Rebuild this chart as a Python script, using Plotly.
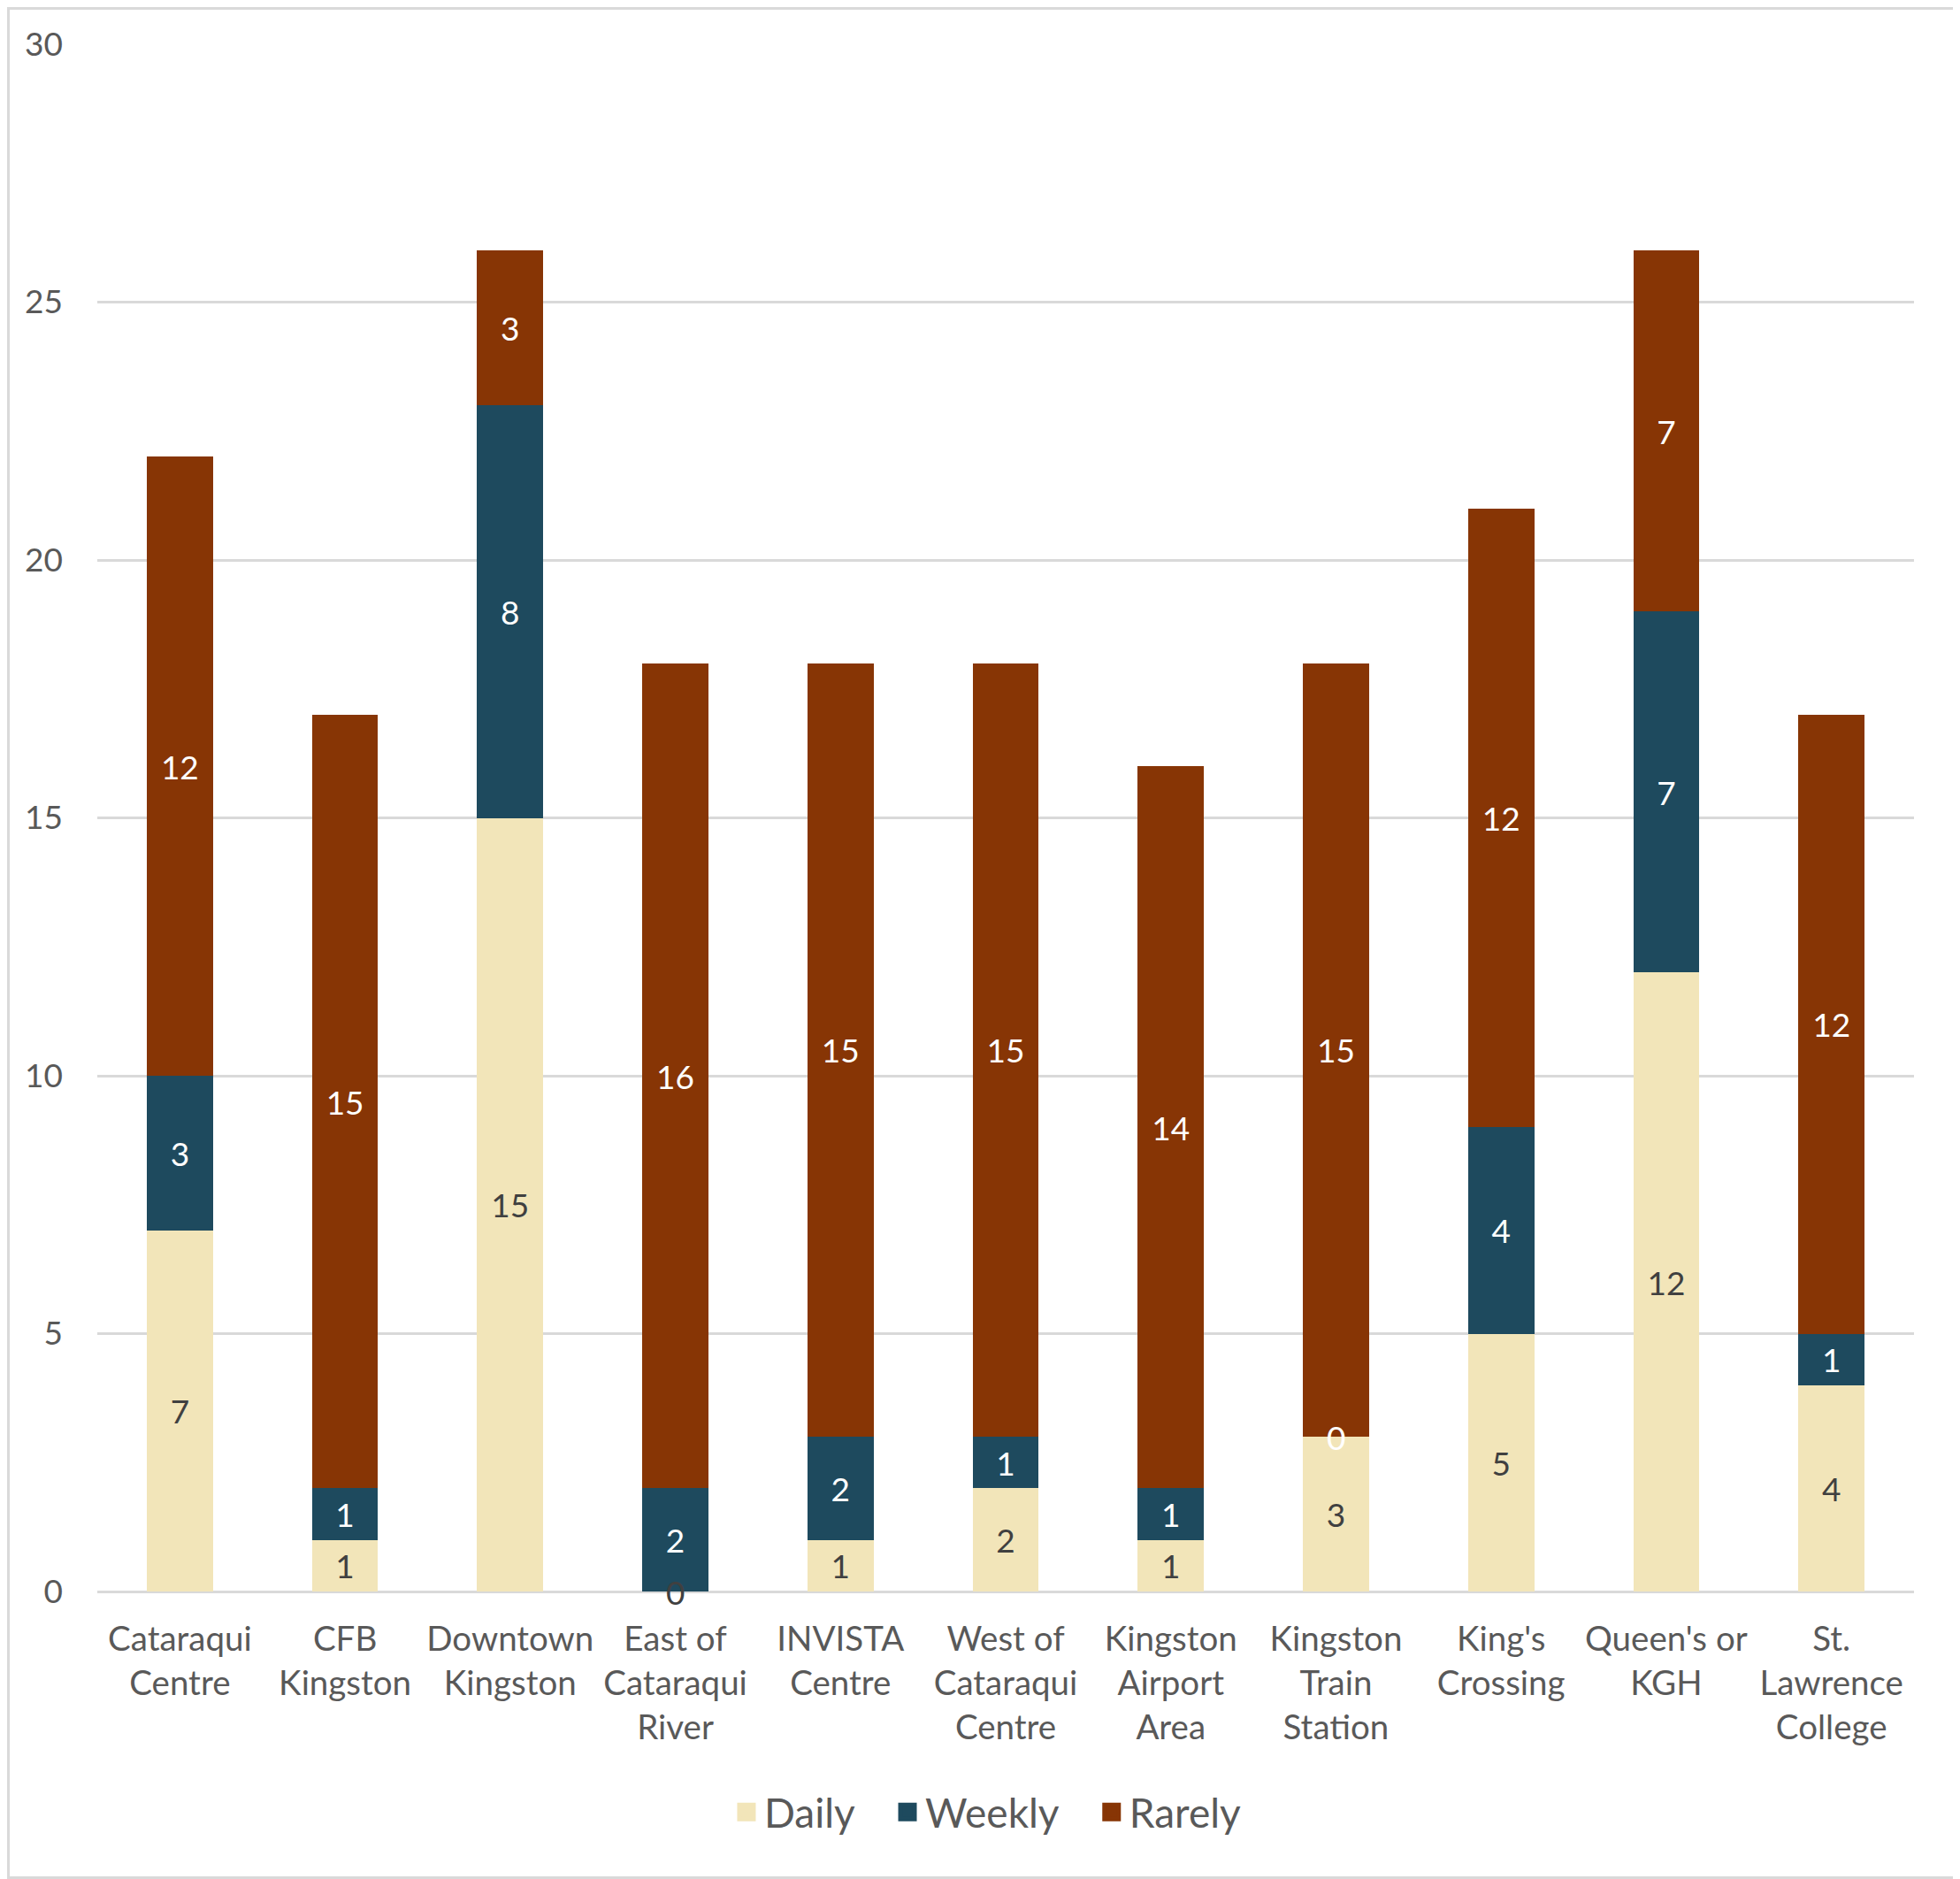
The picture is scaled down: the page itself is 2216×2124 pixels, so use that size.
import plotly.graph_objects as go

categories = [
    "Cataraqui<br>Centre", "CFB<br>Kingston", "Downtown<br>Kingston",
    "East of<br>Cataraqui<br>River", "INVISTA<br>Centre",
    "West of<br>Cataraqui<br>Centre", "Kingston<br>Airport<br>Area",
    "Kingston<br>Train<br>Station", "King's<br>Crossing",
    "Queen's or<br>KGH", "St.<br>Lawrence<br>College",
]
daily = [7, 1, 15, 0, 1, 2, 1, 3, 5, 12, 4]
weekly = [3, 1, 8, 2, 2, 1, 1, 0, 4, 7, 1]
rarely = [12, 15, 3, 16, 15, 15, 14, 15, 12, 7, 12]
y_ticks = [0, 5, 10, 15, 20, 25, 30]

series = [
    ("Daily", daily, "#F2E5B9", "#404040"),
    ("Weekly", weekly, "#1E4A5E", "#FFFFFF"),
    ("Rarely", rarely, "#873505", "#FFFFFF"),
]

FONT = "Lato, Open Sans, sans-serif"
# page body has an 8px margin, so the figure is shifted to compensate
W, H = 2208, 2116
ML, MR, MT, MB = 102, 52, 42, 325
PW, PH = W - ML - MR, H - MT - MB

fig = go.Figure()
annotations = []
base = [0] * len(categories)
for name, vals, col, tcol in series:
    fig.add_trace(go.Bar(
        name=name, x=categories, y=vals, marker_color=col,
        marker_line_width=0, showlegend=False,
        text=[str(v) if v else "" for v in vals],
        textposition="inside", insidetextanchor="middle",
        textfont=dict(family=FONT, size=37, color=tcol),
        hoverinfo="skip",
    ))
    for c, v, b in zip(categories, vals, base):
        if v == 0:
            annotations.append(dict(
                x=c, y=b, xref="x", yref="y", text="0", showarrow=False,
                font=dict(family=FONT, size=37, color=tcol),
                yanchor="middle", xanchor="center"))
    base = [b + v for b, v in zip(base, vals)]

# legend entries with larger square swatches
pad = "\u00a0" * 3
for i, (name, vals, col, tcol) in enumerate(series):
    fig.add_trace(go.Scatter(
        name=name + (pad if i < len(series) - 1 else ""),
        x=[None], y=[None], mode="markers",
        marker=dict(symbol="square", size=25, color=col,
                    line=dict(color=col, width=8)),
        showlegend=True, hoverinfo="skip",
    ))

inset = 1.5
fig.add_shape(
    type="rect", xref="paper", yref="paper",
    x0=(-ML + inset) / PW, x1=(PW + MR - inset) / PW,
    y0=(-MB + inset) / PH, y1=(PH + MT - inset) / PH,
    line=dict(color="#D9D9D9", width=3), layer="below",
)

fig.update_layout(
    width=W, height=H,
    margin=dict(l=ML, r=MR, t=MT, b=MB),
    barmode="stack", bargap=0.6,
    plot_bgcolor="white", paper_bgcolor="white",
    font=dict(family=FONT, size=37, color="#595959"),
    annotations=annotations,
    uniformtext=dict(mode="show", minsize=10),
    legend=dict(
        orientation="h", x=0.49, xanchor="center", y=-0.1426, yanchor="middle",
        font=dict(family=FONT, size=46, color="#595959"),
        traceorder="normal", itemsizing="trace", itemwidth=30,
    ),
    xaxis=dict(
        showgrid=False, showline=False, zeroline=False, ticks="",
        tickfont=dict(family=FONT, size=38.5, color="#595959"),
        ticklabelstandoff=27,
    ),
    yaxis=dict(
        range=[0, 30], tickvals=y_ticks, showgrid=True,
        gridcolor="#D9D9D9", gridwidth=2.5, zeroline=True,
        zerolinecolor="#D9D9D9", zerolinewidth=3, showline=False, ticks="",
        tickfont=dict(family=FONT, size=37, color="#595959"),
        ticklabelstandoff=38,
    ),
)

fig.write_html("out.html")
